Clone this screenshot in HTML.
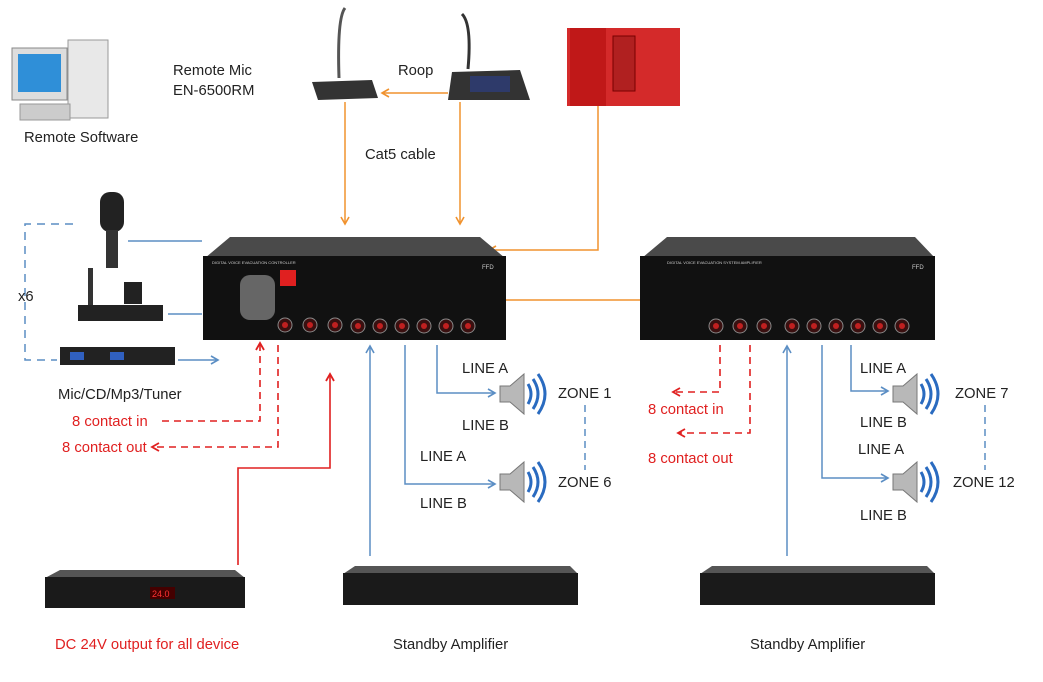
<!DOCTYPE html>
<html><head><meta charset="utf-8"><style>
html,body{margin:0;padding:0;background:#fff}
svg{display:block}
text{font-family:"Liberation Sans",Arial,sans-serif;font-size:14.8px;fill:#222}
.r{fill:#e02020}
</style></head><body>
<svg width="1043" height="682" viewBox="0 0 1043 682" xmlns="http://www.w3.org/2000/svg">
<defs>
<marker id="ab" markerWidth="10" markerHeight="10" refX="8" refY="5" orient="auto" markerUnits="userSpaceOnUse"><path d="M1,1 L8,5 L1,9" fill="none" stroke="#5b8ec4" stroke-width="1.6"/></marker>
<marker id="ao" markerWidth="10" markerHeight="10" refX="8" refY="5" orient="auto" markerUnits="userSpaceOnUse"><path d="M1,1 L8,5 L1,9" fill="none" stroke="#f0922e" stroke-width="1.6"/></marker>
<marker id="ar" markerWidth="10" markerHeight="10" refX="8" refY="5" orient="auto" markerUnits="userSpaceOnUse"><path d="M1,1 L8,5 L1,9" fill="none" stroke="#e02020" stroke-width="1.8"/></marker>
<g id="spk"><path d="M0,14 h10 l14,-12 v40 l-14,-12 h-10z" fill="#b8b8b8" stroke="#777"/><path d="M28,12 q6,10 0,20 M33,7 q10,15 0,30 M38,2 q14,20 0,40" fill="none" stroke="#2a6bc0" stroke-width="3"/></g>
<g id="knob"><circle r="7" fill="#3a1010" stroke="#888"/><circle r="3" fill="#c02020"/></g>
</defs>

<rect x="12" y="48" width="55" height="52" fill="#ddd" stroke="#888"/>
<rect x="18" y="54" width="43" height="38" fill="#2f8fd8"/>
<rect x="68" y="40" width="40" height="78" fill="#e8e8e8" stroke="#999"/>
<rect x="20" y="104" width="50" height="16" fill="#ccc" stroke="#999"/>
<text x="24" y="142">Remote Software</text>
<text x="173" y="75">Remote Mic</text>
<text x="173" y="95">EN-6500RM</text>

<path d="M345,8 q-8,10 -6,70" fill="none" stroke="#555" stroke-width="3"/>
<path d="M312,82 L372,80 L378,98 L318,100z" fill="#333"/>
<path d="M462,14 q10,10 6,55" fill="none" stroke="#333" stroke-width="3"/>
<path d="M452,72 L520,70 L530,100 L448,100z" fill="#333"/>
<rect x="470" y="76" width="40" height="16" fill="#2e3a6a"/>
<text x="398" y="75">Roop</text>
<text x="365" y="159">Cat5 cable</text>
<line x1="448" y1="93" x2="382" y2="93" stroke="#f0922e" stroke-width="1.5" marker-end="url(#ao)"/>
<line x1="345" y1="102" x2="345" y2="224" stroke="#f0922e" stroke-width="1.5" marker-end="url(#ao)"/>
<line x1="460" y1="102" x2="460" y2="224" stroke="#f0922e" stroke-width="1.5" marker-end="url(#ao)"/>

<rect x="567" y="28" width="113" height="78" fill="#d42a2a"/>
<rect x="570" y="28" width="36" height="78" fill="#c01818"/>
<rect x="613" y="36" width="22" height="55" fill="#b02020" stroke="#700"/>
<polyline points="598,106 598,250 489,250" fill="none" stroke="#f0922e" stroke-width="1.5" marker-end="url(#ao)"/>

<path d="M230,237 L480,237 L505,258 L205,258z" fill="#4a4a4a"/>
<rect x="203" y="256" width="303" height="84" fill="#111"/>
<rect x="240" y="275" width="35" height="45" rx="10" fill="#666"/>
<rect x="280" y="270" width="16" height="16" fill="#e02020"/>
<text x="212" y="264" style="font-size:4px;fill:#ccc">DIGITAL VOICE EVACUATION CONTROLLER</text>
<text x="482" y="269" style="font-size:6px;fill:#ccc">FFD</text>
<use href="#knob" x="285" y="325"/><use href="#knob" x="310" y="325"/><use href="#knob" x="335" y="325"/>
<use href="#knob" x="358" y="326"/><use href="#knob" x="380" y="326"/><use href="#knob" x="402" y="326"/><use href="#knob" x="424" y="326"/><use href="#knob" x="446" y="326"/><use href="#knob" x="468" y="326"/>

<path d="M667,237 L915,237 L935,258 L642,258z" fill="#4a4a4a"/>
<rect x="640" y="256" width="295" height="84" fill="#111"/>
<text x="667" y="264" style="font-size:4px;fill:#ccc">DIGITAL VOICE EVACUATION SYSTEM AMPLIFIER</text>
<text x="912" y="269" style="font-size:6px;fill:#ccc">FFD</text>
<use href="#knob" x="716" y="326"/><use href="#knob" x="740" y="326"/><use href="#knob" x="764" y="326"/>
<use href="#knob" x="792" y="326"/><use href="#knob" x="814" y="326"/><use href="#knob" x="836" y="326"/><use href="#knob" x="858" y="326"/><use href="#knob" x="880" y="326"/><use href="#knob" x="902" y="326"/>
<line x1="506" y1="300" x2="640" y2="300" stroke="#f0922e" stroke-width="1.5"/>

<rect x="100" y="192" width="24" height="40" rx="10" fill="#222"/>
<rect x="106" y="230" width="12" height="38" fill="#333"/>
<rect x="78" y="305" width="85" height="16" fill="#222"/>
<rect x="88" y="268" width="5" height="37" fill="#333"/>
<rect x="124" y="282" width="18" height="22" fill="#222"/>
<rect x="60" y="347" width="115" height="18" fill="#222"/>
<rect x="70" y="352" width="14" height="8" fill="#3060c0"/><rect x="110" y="352" width="14" height="8" fill="#3060c0"/>
<polyline points="73,224 25,224 25,360 57,360" fill="none" stroke="#5b8ec4" stroke-width="1.5" stroke-dasharray="8,6"/>
<text x="18" y="301">x6</text>
<line x1="128" y1="241" x2="202" y2="241" stroke="#5b8ec4" stroke-width="1.5"/>
<line x1="168" y1="314" x2="202" y2="314" stroke="#5b8ec4" stroke-width="1.5"/>
<line x1="178" y1="360" x2="218" y2="360" stroke="#5b8ec4" stroke-width="1.5" marker-end="url(#ab)"/>
<text x="58" y="399">Mic/CD/Mp3/Tuner</text>

<text x="72" y="426" class="r">8 contact in</text>
<text x="62" y="452" class="r">8 contact out</text>
<polyline points="162,421 260,421 260,343" fill="none" stroke="#e02020" stroke-width="1.6" stroke-dasharray="7,5" marker-end="url(#ar)"/>
<polyline points="278,345 278,447 152,447" fill="none" stroke="#e02020" stroke-width="1.6" stroke-dasharray="7,5" marker-end="url(#ar)"/>
<polyline points="238,565 238,468 330,468 330,374" fill="none" stroke="#e02020" stroke-width="1.6" marker-end="url(#ar)"/>

<line x1="370" y1="556" x2="370" y2="346" stroke="#5b8ec4" stroke-width="1.5" marker-end="url(#ab)"/>
<polyline points="437,345 437,393 495,393" fill="none" stroke="#5b8ec4" stroke-width="1.5" marker-end="url(#ab)"/>
<polyline points="405,345 405,484 495,484" fill="none" stroke="#5b8ec4" stroke-width="1.5" marker-end="url(#ab)"/>
<use href="#spk" x="500" y="372"/><use href="#spk" x="500" y="460"/>
<text x="462" y="373">LINE A</text><text x="462" y="430">LINE B</text>
<text x="420" y="461">LINE A</text><text x="420" y="508">LINE B</text>
<text x="558" y="398">ZONE 1</text><text x="558" y="487">ZONE 6</text>
<line x1="585" y1="405" x2="585" y2="470" stroke="#5b8ec4" stroke-width="1.5" stroke-dasharray="7,5"/>

<text x="648" y="414" class="r">8 contact in</text>
<text x="648" y="463" class="r">8 contact out</text>
<polyline points="720,345 720,392 673,392" fill="none" stroke="#e02020" stroke-width="1.6" stroke-dasharray="7,5" marker-end="url(#ar)"/>
<polyline points="750,345 750,433 678,433" fill="none" stroke="#e02020" stroke-width="1.6" stroke-dasharray="7,5" marker-end="url(#ar)"/>
<line x1="787" y1="556" x2="787" y2="346" stroke="#5b8ec4" stroke-width="1.5" marker-end="url(#ab)"/>
<polyline points="851,345 851,391 888,391" fill="none" stroke="#5b8ec4" stroke-width="1.5" marker-end="url(#ab)"/>
<polyline points="822,345 822,478 888,478" fill="none" stroke="#5b8ec4" stroke-width="1.5" marker-end="url(#ab)"/>
<use href="#spk" x="893" y="372"/><use href="#spk" x="893" y="460"/>
<text x="860" y="373">LINE A</text><text x="860" y="427">LINE B</text>
<text x="858" y="454">LINE A</text><text x="860" y="520">LINE B</text>
<text x="955" y="398">ZONE 7</text><text x="953" y="487">ZONE 12</text>
<line x1="985" y1="405" x2="985" y2="470" stroke="#5b8ec4" stroke-width="1.5" stroke-dasharray="7,5"/>

<path d="M60,570 L235,570 L245,578 L45,578z" fill="#555"/>
<rect x="45" y="577" width="200" height="31" fill="#1a1a1a"/>
<rect x="150" y="587" width="25" height="12" fill="#400"/><text x="152" y="597" style="font-size:9px;fill:#f33">24.0</text>
<path d="M355,566 L570,566 L578,574 L343,574z" fill="#555"/>
<rect x="343" y="573" width="235" height="32" fill="#1a1a1a"/>
<path d="M712,566 L927,566 L935,574 L700,574z" fill="#555"/>
<rect x="700" y="573" width="235" height="32" fill="#1a1a1a"/>
<text x="55" y="649" class="r">DC 24V output for all device</text>
<text x="393" y="649">Standby Amplifier</text>
<text x="750" y="649">Standby Amplifier</text>
</svg>
</body></html>
